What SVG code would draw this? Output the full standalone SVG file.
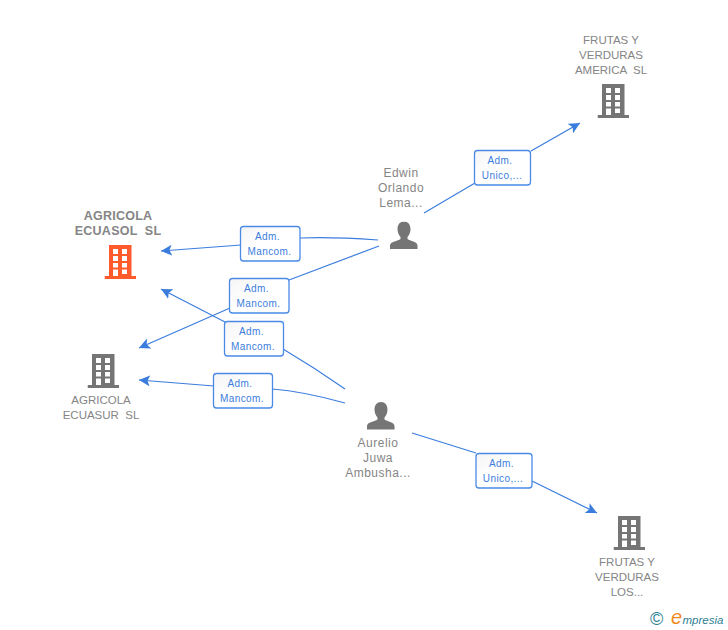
<svg xmlns="http://www.w3.org/2000/svg" width="728" height="630" viewBox="0 0 728 630">
<style>
text{font-family:"Liberation Sans",Arial,sans-serif;white-space:pre}
.n{font-size:11.500px;fill:#858585;text-anchor:middle}
.p{font-size:12px;letter-spacing:.5px}
.b{font-weight:bold;font-size:12.500px;letter-spacing:.25px}
.e{font-size:10px;fill:#3b7ddd;text-anchor:middle;letter-spacing:.4px}
.box{fill:url(#g);stroke:#4a8ae6;stroke-width:1.3}
.c path{fill:none;stroke:#3b7ddd;stroke-width:1.2}
.gray{fill:#757575}
.or{fill:#ff5a2c}
</style>
<defs>
<linearGradient id="g" x1="0" y1="0" x2="1" y2="1"><stop offset="0" stop-color="#f4f4f4"/><stop offset="0.4" stop-color="#fff"/></linearGradient>
<marker id="a" markerUnits="userSpaceOnUse" markerWidth="13" markerHeight="12" refX="11" refY="5.500" orient="auto"><path d="M0 0L11 5.500L0 11L2.500 5.500Z" fill="#3b7ddd"/></marker>
<symbol id="bld" width="32" height="34" viewBox="0 0 32 34">
<path fill-rule="evenodd" d="M4.500 0H27V31H31.500V34H0V31H4.500ZM8.500 4V9H13.500V4ZM17.500 4V9H22.500V4ZM8.500 11V16H13.500V11ZM17.500 11V16H22.500V11ZM8.500 18V22.500H13.500V18ZM17.500 18V22.500H22.500V18ZM8.500 24.500V31H13.500V24.500ZM17.500 24.500V29H22.500V24.500Z"/>
</symbol>
<symbol id="per" width="28" height="28" viewBox="0 0 28 28">
<path d="M14 0C18 0 20.500 3 20.500 7.500C20.500 11 19 14 17.500 15.500V17.500C20 19.500 27.500 20 27.500 24V27.500H0V24C0 20 8 19.500 10.500 17.500V15.500C9 14 7.500 11 7.500 7.500C7.500 3 10 0 14 0Z"/>
</symbol>
</defs>
<g id="connectors" class="c">
<path d="M424 213L475 183"/><path d="M531 151L580 123" marker-end="url(#a)"/>
<path d="M378 240C350 238 325 237 300 238"/><path d="M241 245L161 251" marker-end="url(#a)"/>
<path d="M379 246L289 280"/><path d="M230 308L139 348" marker-end="url(#a)"/>
<path d="M345 389C325 375 305 362 283 349"/><path d="M225 322L161 289" marker-end="url(#a)"/>
<path d="M345 403C320 396 297 391 272 389"/><path d="M214 386L139 380" marker-end="url(#a)"/>
<path d="M412 433L476 453"/><path d="M532 481L597 513" marker-end="url(#a)"/>
</g>
<g id="edge-labels">
<g><rect class="box" x="240.500" y="226.500" width="59.500" height="34.500" rx="3"/><text class="e" x="267.500" y="240">Adm.</text><text class="e" x="269.500" y="255">Mancom.</text></g>
<g><rect class="box" x="229.500" y="278.500" width="59.500" height="34.500" rx="3"/><text class="e" x="256.500" y="292">Adm.</text><text class="e" x="258.500" y="307">Mancom.</text></g>
<g><rect class="box" x="224.500" y="321.500" width="59" height="34.500" rx="3"/><text class="e" x="251.500" y="335">Adm.</text><text class="e" x="253" y="350">Mancom.</text></g>
<g><rect class="box" x="213.500" y="373.500" width="59" height="34.500" rx="3"/><text class="e" x="240" y="387">Adm.</text><text class="e" x="242" y="402">Mancom.</text></g>
<g><rect class="box" x="474.500" y="150.500" width="56" height="34.500" rx="3"/><text class="e" x="500" y="164">Adm.</text><text class="e" x="502" y="179">Unico,...</text></g>
<g><rect class="box" x="476" y="453.500" width="56" height="34.500" rx="3"/><text class="e" x="501.500" y="467">Adm.</text><text class="e" x="503" y="482">Unico,...</text></g>
</g>
<g id="ecuasol"><text class="n b" x="118" y="220">AGRICOLA</text><text class="n b" x="118" y="235">ECUASOL  SL</text><use href="#bld" class="or" x="104.500" y="245"/></g>
<g id="ecuasur"><use href="#bld" class="gray" x="87.500" y="354"/><text class="n" x="101" y="404">AGRICOLA</text><text class="n" x="101" y="419">ECUASUR  SL</text></g>
<g id="america"><text class="n" x="611" y="44">FRUTAS Y</text><text class="n" x="611" y="59">VERDURAS</text><text class="n" x="611" y="74">AMERICA  SL</text><use href="#bld" class="gray" x="597.500" y="84"/></g>
<g id="los"><use href="#bld" class="gray" x="613.500" y="516"/><text class="n" x="627" y="566">FRUTAS Y</text><text class="n" x="627" y="581">VERDURAS</text><text class="n" x="627" y="596">LOS...</text></g>
<g id="edwin"><text class="n p" x="401" y="177">Edwin</text><text class="n p" x="401" y="192">Orlando</text><text class="n p" x="401" y="207">Lema...</text><use href="#per" class="gray" x="390" y="221.500"/></g>
<g id="aurelio"><use href="#per" class="gray" x="367" y="402"/><text class="n p" x="378" y="447">Aurelio</text><text class="n p" x="378" y="462">Juwa</text><text class="n p" x="378" y="477">Ambusha...</text></g>
<g id="logo"><text x="650" y="625" font-size="18" fill="#2f7f93">©</text><text x="671" y="624" font-size="20" font-style="italic" fill="#f08a1c">e</text><text x="682.500" y="624" font-size="11.500" font-style="italic" fill="#2f7f93">mpresia</text></g>
</svg>
